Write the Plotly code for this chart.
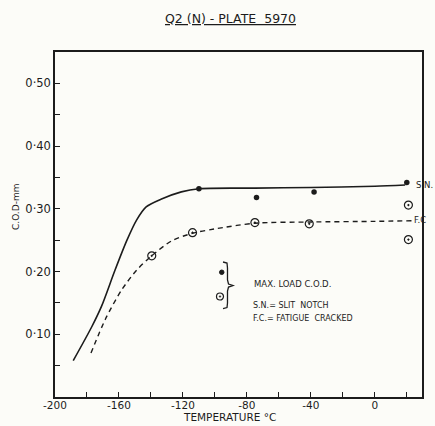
import plotly.graph_objects as go

# ---- data ----
sn_curve_t = [-188.6, -177, -171, -162.5, -155, -149, -143, -133, -121, -110, -75, -40, 0, 19]
sn_curve_v = [0.058, 0.112, 0.144, 0.202, 0.250, 0.282, 0.303, 0.316, 0.327, 0.332, 0.333, 0.334, 0.336, 0.338]

fc_curve_t = [-177.5, -168.5, -158.5, -149, -139.6, -127, -114, -100, -75, -40, 0, 23]
fc_curve_v = [0.070, 0.124, 0.170, 0.202, 0.225, 0.249, 0.261, 0.268, 0.277, 0.279, 0.280, 0.281]

sn_pts_t = [-110, -74, -38, 20]
sn_pts_v = [0.332, 0.318, 0.327, 0.342]

fc_pts_t = [-139.5, -114, -75, -41, 21, 21]
fc_pts_v = [0.225, 0.262, 0.278, 0.276, 0.306, 0.251]

x_tickvals = [-200, -180, -160, -140, -120, -100, -80, -60, -40, -20, 0, 20]
x_ticktext = ["-200", "", "-160", "", "-120", "", "-80", "", "-40", "", "0", ""]
y_tickvals = [0.05, 0.10, 0.15, 0.20, 0.25, 0.30, 0.35, 0.40, 0.45, 0.50]
y_ticktext = ["", "0·10", "", "0·20", "", "0·30", "", "0·40", "", "0·50"]

INK = "#1c1c1c"
FONT = "DejaVu Sans"

fig = go.Figure()
fig.add_trace(go.Scatter(x=sn_curve_t, y=sn_curve_v, mode="lines",
                         line=dict(color=INK, width=1.6, shape="spline", smoothing=0.8),
                         hoverinfo="skip", showlegend=False))
fig.add_trace(go.Scatter(x=fc_curve_t, y=fc_curve_v, mode="lines",
                         line=dict(color=INK, width=1.4, dash="5px,4px", shape="spline", smoothing=0.8),
                         hoverinfo="skip", showlegend=False))
fig.add_trace(go.Scatter(x=sn_pts_t, y=sn_pts_v, mode="markers",
                         marker=dict(color=INK, size=5.5, symbol="circle"),
                         showlegend=False))
fig.add_trace(go.Scatter(x=fc_pts_t, y=fc_pts_v, mode="markers",
                         marker=dict(color=INK, size=8, symbol="circle-open-dot", line=dict(width=1.2, color=INK)),
                         showlegend=False))

# paper-coordinate helpers for decorations (plot area: x 55..422, y 52..397 px)
def px(x):
    return (x - 55) / 367.0
def py(y):
    return (397 - y) / 345.0

shapes = []
# legend key markers
shapes.append(dict(type="circle", xref="paper", yref="paper",
                   x0=px(219.5), x1=px(224), y0=py(274.5), y1=py(270),
                   fillcolor=INK, line=dict(color=INK, width=1)))
shapes.append(dict(type="circle", xref="paper", yref="paper",
                   x0=px(216.5), x1=px(223.5), y0=py(300), y1=py(293),
                   fillcolor="rgba(0,0,0,0)", line=dict(color=INK, width=1.2)))
shapes.append(dict(type="circle", xref="paper", yref="paper",
                   x0=px(219.2), x1=px(220.8), y0=py(297.3), y1=py(295.7),
                   fillcolor=INK, line=dict(color=INK, width=0.5)))
# brace
bpts = [(223, 262), (227, 263), (227.5, 268), (227.5, 280), (228.5, 284), (233, 285.5),
        (228.5, 287), (227.5, 291), (227.5, 303), (227, 307.5), (223, 308.5)]
path = "M " + " L ".join(f"{px(a):.4f},{py(b):.4f}" for a, b in bpts)
shapes.append(dict(type="path", xref="paper", yref="paper", path=path,
                   line=dict(color=INK, width=1.3)))

annotations = [
    dict(text="<u>Q2 (N) - PLATE  5970</u>", xref="paper", yref="paper",
         x=px(230), y=py(18), xanchor="center", yanchor="middle", showarrow=False,
         font=dict(family=FONT, size=12.5, color=INK)),
    dict(text="C.O.D-mm", xref="paper", yref="paper", x=px(16), y=py(207),
         xanchor="center", yanchor="middle", textangle=-90, showarrow=False,
         font=dict(family=FONT, size=9, color=INK)),
    dict(text="TEMPERATURE °C", xref="paper", yref="paper", x=px(229), y=py(417),
         xanchor="center", yanchor="middle", showarrow=False,
         font=dict(family=FONT, size=10.5, color=INK)),
    dict(text="S.N.", xref="paper", yref="paper", x=px(414), y=py(185),
         xanchor="left", yanchor="middle", showarrow=False,
         font=dict(family=FONT, size=8.5, color=INK)),
    dict(text="F.C", xref="paper", yref="paper", x=px(412), y=py(220),
         xanchor="left", yanchor="middle", showarrow=False,
         font=dict(family=FONT, size=8.5, color=INK)),
    dict(text="MAX. LOAD C.O.D.", xref="paper", yref="paper", x=px(252), y=py(284),
         xanchor="left", yanchor="middle", showarrow=False,
         font=dict(family=FONT, size=8.5, color=INK)),
    dict(text="S.N.= SLIT  NOTCH", xref="paper", yref="paper", x=px(251), y=py(305),
         xanchor="left", yanchor="middle", showarrow=False,
         font=dict(family=FONT, size=8, color=INK)),
    dict(text="F.C.= FATIGUE  CRACKED", xref="paper", yref="paper", x=px(251), y=py(318),
         xanchor="left", yanchor="middle", showarrow=False,
         font=dict(family=FONT, size=8, color=INK)),
]

fig.update_layout(
    width=435, height=426,
    margin=dict(l=55, r=13, t=52, b=29),
    paper_bgcolor="#fcfcf8", plot_bgcolor="#fcfcf8",
    showlegend=False,
    shapes=shapes, annotations=annotations,
)
fig.update_xaxes(range=[-200, 29.5], tickvals=x_tickvals, ticktext=x_ticktext,
                 ticks="inside", ticklen=5, tickwidth=1.2, tickcolor=INK,
                 showline=True, linecolor=INK, linewidth=1.5, mirror=True,
                 showgrid=False, zeroline=False, ticklabelstandoff=-2,
                 tickfont=dict(family=FONT, size=10.5, color=INK))
fig.update_yaxes(range=[0, 0.55], tickvals=y_tickvals, ticktext=y_ticktext,
                 ticks="inside", ticklen=5, tickwidth=1.2, tickcolor=INK,
                 showline=True, linecolor=INK, linewidth=1.5, mirror=True,
                 showgrid=False, zeroline=False,
                 tickfont=dict(family=FONT, size=11.5, color=INK))

fig.write_html(
    "out.html",
    config={"displayModeBar": False},
    post_script="document.body.style.margin='0';document.body.style.overflow='hidden';document.body.style.background='#fcfcf8';",
)
